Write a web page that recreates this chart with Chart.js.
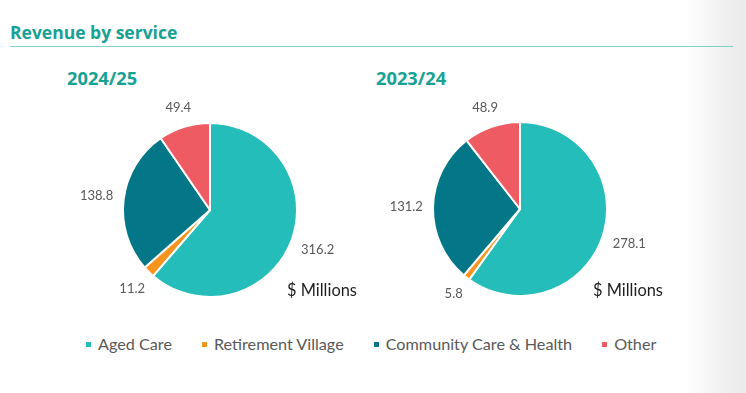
<!DOCTYPE html>
<html lang="en">
<head>
<meta charset="UTF-8">
<title>Revenue by service</title>
<script src="https://cdn.jsdelivr.net/npm/chart.js"></script>
<style>
  html, body { margin: 0; padding: 0; }
  body {
    width: 746px; height: 393px; position: relative; overflow: hidden;
    background: linear-gradient(to right, #fff 0, #fff 686px, #eeeeee 728px, #ebebeb 746px);
    font-family: Lato, sans-serif;
  }
  h1 { position: absolute; left: 10px; top: 22px; margin: 0; font: 700 17.5px/20px 'Open Sans'; color: #17a194; }
  .rule { position: absolute; left: 10px; top: 46px; width: 723px; border-top: 1.5px solid #7dd2c8; }
  .year { position: absolute; top: 67px; font: 700 18.3px/22px 'Open Sans'; color: #17a194; }
  .unit { position: absolute; top: 280px; font: 400 16.4px/20px Lato; color: #1e1e1e; }
  canvas { position: absolute; }
  #legend { position: absolute; left: 86px; top: 334px; display: flex; gap: 30px; font: 400 16.2px/20px Lato; color: #595959; }
  #legend span { display: flex; align-items: center; }
  #legend i { display: inline-block; width: 5px; height: 5px; margin-right: 7px; }
</style>
</head>
<body>
  <h1>Revenue by service</h1>
  <div class="rule"></div>

  <div class="year" id="year1" style="left:67px"></div>
  <div class="year" id="year2" style="left:376px"></div>

  <canvas id="pie1" width="300" height="236" style="left:60px; top:92px"></canvas>
  <canvas id="pie2" width="300" height="236" style="left:370px; top:91px"></canvas>

  <div class="unit" style="left:287px">$ Millions</div>
  <div class="unit" style="left:593px">$ Millions</div>

  <div id="legend"></div>

<script>
  const categories = ['Aged Care', 'Retirement Village', 'Community Care & Health', 'Other'];
  const periods = ['2024/25', '2023/24'];
  const revenue2425 = [316.2, 11.2, 138.8, 49.4];
  const revenue2324 = [278.1, 5.8, 131.2, 48.9];
  const colours = ['#25bdb9', '#f7941e', '#037787', '#ef5b62'];

  // value labels sitting just outside each slice
  const outsideLabels = {
    id: 'outsideLabels',
    afterDatasetsDraw(chart) {
      const ctx = chart.ctx;
      const meta = chart.getDatasetMeta(0);
      const values = chart.data.datasets[0].data;
      ctx.save();
      ctx.font = '13px Lato';
      ctx.fillStyle = '#595959';
      ctx.textAlign = 'center';
      ctx.textBaseline = 'middle';
      meta.data.forEach((arc, i) => {
        const p = arc.getProps(['x', 'y', 'startAngle', 'endAngle', 'outerRadius'], true);
        const mid = (p.startAngle + p.endAngle) / 2;
        const text = values[i].toFixed(1);
        const w = ctx.measureText(text).width;
        const cos = Math.cos(mid), sin = Math.sin(mid);
        const d = p.outerRadius + 10 + Math.abs(cos) * w / 2 + Math.abs(sin) * 6.5;
        ctx.fillText(text, p.x + cos * d, p.y + sin * d);
      });
      ctx.restore();
    }
  };

  function makePie(id, values) {
    new Chart(document.getElementById(id), {
      type: 'pie',
      data: {
        labels: categories,
        datasets: [{
          data: values,
          backgroundColor: colours,
          borderColor: '#ffffff',
          borderWidth: 2
        }]
      },
      options: {
        responsive: false,
        animation: false,
        layout: { padding: { left: 62, right: 62, top: 30, bottom: 30 } },
        plugins: {
          legend: { display: false },
          tooltip: { enabled: false }
        }
      },
      plugins: [outsideLabels]
    });
  }

  document.getElementById('year1').textContent = periods[0];
  document.getElementById('year2').textContent = periods[1];
  makePie('pie1', revenue2425);
  makePie('pie2', revenue2324);

  const legend = document.getElementById('legend');
  categories.forEach((name, i) => {
    const item = document.createElement('span');
    const box = document.createElement('i');
    box.style.background = colours[i];
    item.appendChild(box);
    item.appendChild(document.createTextNode(name));
    legend.appendChild(item);
  });
</script>
</body>
</html>
